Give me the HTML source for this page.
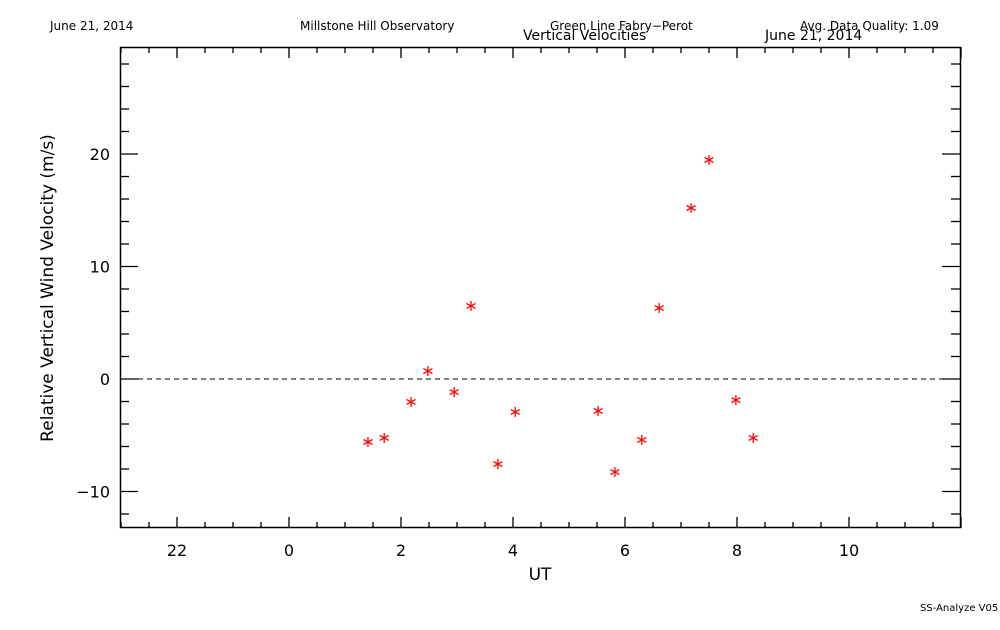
<!DOCTYPE html>
<html><head><meta charset="utf-8"><style>
body{margin:0;background:#fff;}
svg text{font-family:"DejaVu Sans","Liberation Sans",sans-serif;fill:#000;}
</style></head><body>
<svg width="1000" height="625" viewBox="0 0 1000 625" xmlns="http://www.w3.org/2000/svg">
<rect width="1000" height="625" fill="#fff"/>
<g font-size="12">
<text x="50" y="30">June 21, 2014</text>
<text x="300" y="30">Millstone Hill Observatory</text>
<text x="550" y="30">Green Line Fabry−Perot</text>
<text x="800" y="30">Avg. Data Quality: 1.09</text>
<text x="920" y="611" font-size="10">SS-Analyze V05</text>
</g>
<g font-size="14">
<text x="523" y="40">Vertical Velocities</text>
<text x="765" y="40">June 21, 2014</text>
</g>
<rect x="120.5" y="47.5" width="840" height="480" fill="none" stroke="#000" stroke-width="1.5"/>
<g id="axes"></g>
<g id="marks"></g>
<text x="540" y="580" font-size="17" text-anchor="middle">UT</text>
<text transform="translate(53,288) rotate(-90)" font-size="17" text-anchor="middle">Relative Vertical Wind Velocity (m/s)</text>
</svg>
<script>
const xTickValues=[-2,0,2,4,6,8,10];
const xTickLabels=["22","0","2","4","6","8","10"];
const yTickValues=[-10,0,10,20];
const yTickLabels=["−10","0","10","20"];
const utHours=[1.41,1.70,2.18,2.48,2.95,3.25,3.73,4.04,5.52,5.82,6.30,6.61,7.18,7.50,7.98,8.29];
const velocities=[-5.6,-5.24,-2.04,0.71,-1.16,6.49,-7.56,-2.93,-2.84,-8.27,-5.42,6.31,15.2,19.47,-1.87,-5.24];
const NS="http://www.w3.org/2000/svg";
function xs(h){return 289+56*h;}
function ys(v){return 379-11.25*v;}
const axes=document.getElementById('axes'),marks=document.getElementById('marks');
function ln(p,x1,y1,x2,y2,dash){const l=document.createElementNS(NS,'line');l.setAttribute('x1',x1);l.setAttribute('y1',y1);l.setAttribute('x2',x2);l.setAttribute('y2',y2);l.setAttribute('stroke',dash?'#000':'#000');l.setAttribute('stroke-width',dash?1:1.3);if(dash)l.setAttribute('stroke-dasharray','5,4');p.appendChild(l);return l;}
function tx(p,x,y,s,anc){const t=document.createElementNS(NS,'text');t.setAttribute('x',x);t.setAttribute('y',y);t.setAttribute('font-size','16');t.setAttribute('text-anchor',anc);t.textContent=s;p.appendChild(t);return t;}
for(let h=-3;h<=12;h+=0.5){const x=xs(h);const major=Number.isInteger(h)&&h%2===0;const len=major?11:6;
const a=ln(axes,x,528,x,528-len);
const b=ln(axes,x,47,x,47+len);}
for(let v=-12;v<=28;v+=2){const y=ys(v);const major=v%10===0;const len=major?18:9;
const a=ln(axes,120,y,120+len,y);
const b=ln(axes,960,y,960-len,y);}
xTickValues.forEach((v,i)=>{const t=tx(axes,xs(v),556,xTickLabels[i],'middle');

});
yTickValues.forEach((v,i)=>{const t=tx(axes,110,ys(v)+6,yTickLabels[i],'end');

});
const z=ln(axes,120,ys(0),960,ys(0),true);


utHours.forEach((h,i)=>{const x=xs(h),y=ys(velocities[i]);const g=document.createElementNS(NS,'g');


g.setAttribute('stroke','#f00');g.setAttribute('stroke-width','1.3');
[[0,5],[4.5,2.5],[4.5,-2.5]].forEach(([dx,dy])=>{const l=document.createElementNS(NS,'line');l.setAttribute('x1',x-dx);l.setAttribute('y1',y-dy);l.setAttribute('x2',x+dx);l.setAttribute('y2',y+dy);g.appendChild(l);});
marks.appendChild(g);});
</script>
</body></html>
